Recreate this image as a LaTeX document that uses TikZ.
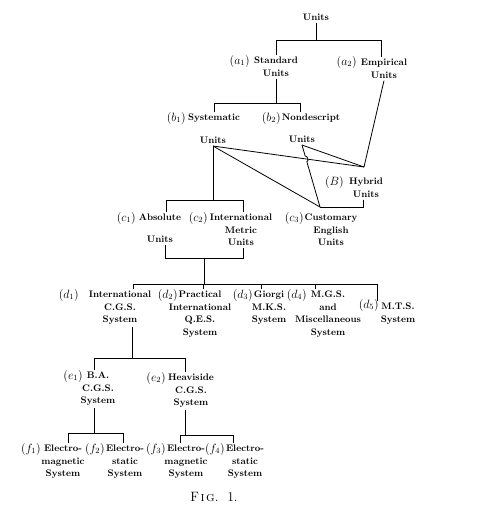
\documentclass[tikz,border=0pt]{standalone}
\usepackage{amsmath}
\usetikzlibrary{calc,intersections}

\newcommand\wordfont{\fontsize{9.5}{12.5}\selectfont\bfseries}
\newcommand\tagfont{\fontsize{12}{12}\selectfont}

\tikzset{
  word/.style={font=\wordfont, align=center, anchor=north, inner xsep=1pt, inner ysep=2pt},
  tag/.style={font=\tagfont, anchor=base east, inner sep=0pt},
  link/.style={line width=0.8pt},
}

\begin{document}
\begin{tikzpicture}[x=1pt, y=-1pt]
  \useasboundingbox (0,0) rectangle (480,509);

  % units, standard, empirical
  \node[word] (units) at (316,12) {Units};
  \node[word] (std) at (276,55) {Standard\\Units};
  \node[tag] (ta1) at (250,64) {$(a_1)$};
  \node[word] (emp) at (384,57) {Empirical\\Units};
  \node[tag] (ta2) at (357,65) {$(a_2)$};
  \draw[link] (std.north) -- ++(0,-15) coordinate (abar) -| ([xshift=-3pt]emp.north);
  \draw[link] (units.south) |- (abar);

  % systematic, nondescript
  \node[word] (sys) at (214,112) {Systematic};
  \node[tag] (tb1) at (186,121) {$(b_1)$};
  \node[word] (non) at (311,112) {Nondescript};
  \node[tag] (tb2) at (281,121) {$(b_2)$};
  \node[word] (sysu) at (213,135) {Units};
  \node[word] (nonu) at (302,134) {Units};
  \draw[link] (sys.north) -- ++(0,-9) coordinate (bbar) -| ([xshift=-11pt]non.north);
  \draw[link] (std.south) |- (bbar);

  % hybrid
  \node[word] (hyb) at (366,176) {Hybrid\\Units};
  \node[tag] (tB) at (344,185) {$(B)$};
  \coordinate (hybtop) at ([shift={(-2pt,9pt)}]hyb.north);
  \draw[link] (emp.south) -- (hybtop);
  \draw[link, name path=sh] (sysu.south) -- (hybtop);
  \draw[link] (nonu.south) -- (hybtop);

  % absolute, metric, customary
  \node[word] (abs) at (160,212) {Absolute\\[9pt]Units};
  \node[tag] (tc1) at (136,221) {$(c_1)$};
  \node[word] (met) at (241,212) {International\\Metric\\Units};
  \node[tag] (tc2) at (208,221) {$(c_2)$};
  \node[word] (cus) at (331,212) {Customary\\English\\Units};
  \node[tag] (tc3) at (304,221) {$(c_3)$};
  \coordinate (custop) at ([shift={(-11pt,5pt)}]cus.north);
  \draw[link] (sysu.south) -- (custop);
  \path[name path=nc] (nonu.south) -- (custop);
  \path[name intersections={of=sh and nc, by=cross}];
  \draw[link] (nonu.south) -- ($(cross)!3pt!(nonu.south)$)
    to[bend left=90] ($(cross)!3pt!(custop)$) -- (custop);
  \draw[link] ([xshift=-3pt]hyb.south) |- (custop);
  \draw[link] ([xshift=6pt]abs.north) -- ++(0,-12) coordinate (cbar) -| ([xshift=2pt]met.north);
  \draw[link] (sysu.south) |- (cbar);
  \draw[link] ([xshift=5pt]abs.south) -- ++(0,14) -| coordinate[pos=0.25] (cmid) ([xshift=2pt]met.south);

  % systems
  \node[word] (cgs) at (120,289) {International\\C.G.S.\\System};
  \node[tag] (td1) at (79,298) {$(d_1)$};
  \node[word] (qes) at (200,289) {Practical\\International\\Q.E.S.\\System};
  \node[tag] (td2) at (178,298) {$(d_2)$};
  \node[word] (mks) at (269,289) {Giorgi\\M.K.S.\\System};
  \node[tag] (td3) at (253,298) {$(d_3)$};
  \node[word] (mgs) at (328,289) {M.G.S.\\and\\Miscellaneous\\System};
  \node[tag] (td4) at (307,298) {$(d_4)$};
  \node[word] (mts) at (398,301) {M.T.S.\\System};
  \node[tag] (td5) at (379,308) {$(d_5)$};
  \draw[link] ([xshift=13pt]cgs.north) -- ++(0,-5) coordinate (dbar) -| ([xshift=-21pt]mts.north);
  \foreach \n/\s in {qes/3pt, mks/-8pt, mgs/-13pt}
    \draw[link] ([xshift=\s]\n.north) -- ++(0,-5);
  \draw[link] (cmid) -- (cmid |- dbar);

  % c.g.s. systems
  \node[word] (ba) at (98,370) {B.A.\\C.G.S.\\System};
  \node[tag] (te1) at (83,379) {$(e_1)$};
  \node[word] (hea) at (191,372) {Heaviside\\C.G.S.\\System};
  \node[tag] (te2) at (166,381) {$(e_2)$};
  \draw[link] ([xshift=-4pt]ba.north) -- ++(0,-12) coordinate (ebar) -| ([xshift=-6pt]hea.north);
  \draw[link] ([xshift=12pt]cgs.south) |- (ebar);

  % electromagnetic, electrostatic
  \node[word] (emA) at (63,443) {Electro-\\magnetic\\System};
  \node[tag] (tf1) at (41,452) {$(f_1)$};
  \node[word] (esA) at (125,443) {Electro-\\static\\System};
  \node[tag] (tf2) at (105,452) {$(f_2)$};
  \node[word] (emB) at (186,443) {Electro-\\magnetic\\System};
  \node[tag] (tf3) at (166,452) {$(f_3)$};
  \node[word] (esB) at (245,443) {Electro-\\static\\System};
  \node[tag] (tf4) at (225,452) {$(f_4)$};
  \draw[link] ([xshift=5pt]emA.north) -- ++(0,-10) coordinate (fbarA) -| ([xshift=-2pt]esA.north);
  \draw[link] ([xshift=-4pt]ba.south) |- (fbarA);
  \draw[link] ([xshift=-6pt]emB.north) -- ++(0,-8) coordinate (fbarB) -| ([xshift=-12pt]esB.north);
  \draw[link] ([xshift=-6pt]hea.south) |- (fbarB);

  \node (fig) at (214,497) {\fontsize{13.5}{15}\selectfont F\kern1.5pt\textsc{i\kern1.5pt g}.\ \ 1.};
\end{tikzpicture}
\end{document}
